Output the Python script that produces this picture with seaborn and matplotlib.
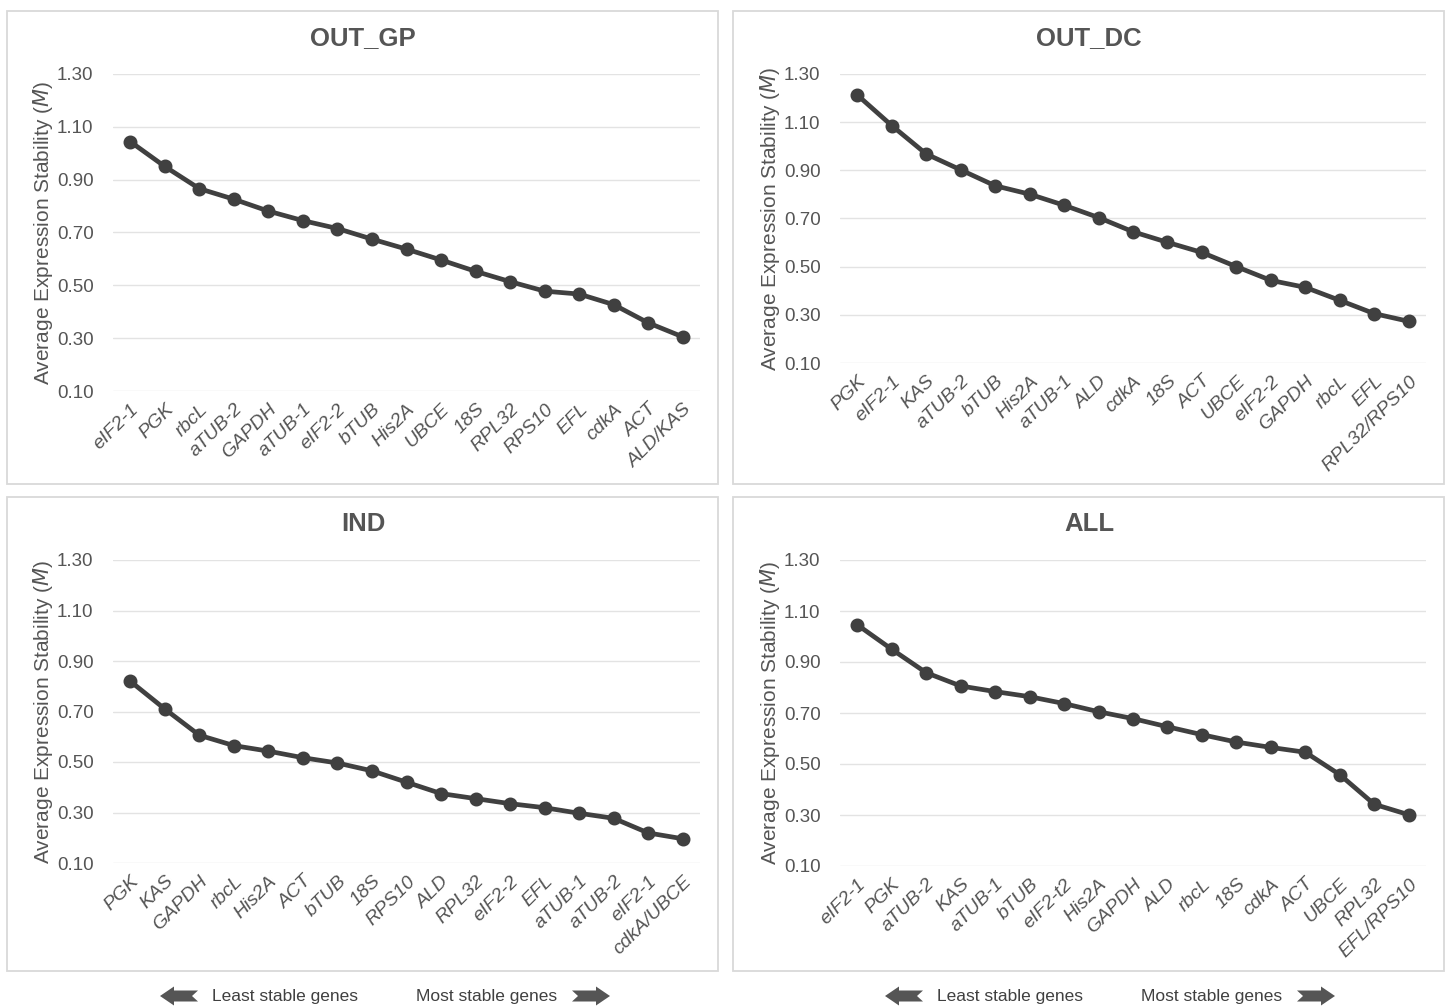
import pandas as pd
import seaborn as sns
import matplotlib.pyplot as plt
from matplotlib.patches import Rectangle, Polygon

# Gene ranking (least stable -> most stable) and average M values per set
genes_gp = ['eIF2-1', 'PGK', 'rbcL', 'aTUB-2', 'GAPDH', 'aTUB-1', 'eIF2-2', 'bTUB', 'His2A',
            'UBCE', '18S', 'RPL32', 'RPS10', 'EFL', 'cdkA', 'ACT', 'ALD/KAS']
m_gp = [1.044, 0.950, 0.866, 0.826, 0.781, 0.745, 0.715, 0.675, 0.637,
        0.596, 0.553, 0.514, 0.478, 0.467, 0.427, 0.358, 0.305]

genes_dc = ['PGK', 'eIF2-1', 'KAS', 'aTUB-2', 'bTUB', 'His2A', 'aTUB-1', 'ALD', 'cdkA',
            '18S', 'ACT', 'UBCE', 'eIF2-2', 'GAPDH', 'rbcL', 'EFL', 'RPL32/RPS10']
m_dc = [1.213, 1.086, 0.968, 0.902, 0.836, 0.801, 0.755, 0.704, 0.645,
        0.601, 0.559, 0.500, 0.443, 0.414, 0.360, 0.305, 0.273]

genes_ind = ['PGK', 'KAS', 'GAPDH', 'rbcL', 'His2A', 'ACT', 'bTUB', '18S', 'RPS10',
             'ALD', 'RPL32', 'eIF2-2', 'EFL', 'aTUB-1', 'aTUB-2', 'eIF2-1', 'cdkA/UBCE']
m_ind = [0.820, 0.710, 0.606, 0.565, 0.543, 0.517, 0.496, 0.465, 0.420,
         0.375, 0.355, 0.335, 0.319, 0.297, 0.277, 0.219, 0.196]

genes_all = ['eIF2-1', 'PGK', 'aTUB-2', 'KAS', 'aTUB-1', 'bTUB', 'eIF2-t2', 'His2A', 'GAPDH',
             'ALD', 'rbcL', '18S', 'cdkA', 'ACT', 'UBCE', 'RPL32', 'EFL/RPS10']
m_all = [1.046, 0.950, 0.858, 0.806, 0.784, 0.764, 0.737, 0.705, 0.678,
         0.646, 0.615, 0.586, 0.565, 0.546, 0.458, 0.342, 0.301]

titles = ['OUT_GP', 'OUT_DC', 'IND', 'ALL']
y_ticks = [0.10, 0.30, 0.50, 0.70, 0.90, 1.10, 1.30]

sns.set_theme(style='white')
plt.rcParams['font.family'] = ['Liberation Sans', 'DejaVu Sans']

TXT = '#555555'
LINE = '#404040'
W, H = 1447, 1006

fig = plt.figure(figsize=(W / 100, H / 100), dpi=100)


def px_rect(x0, y0, x1, y1):
    # pixel box (top-left origin) -> figure fraction [left, bottom, width, height]
    return [x0 / W, 1 - y1 / H, (x1 - x0) / W, (y1 - y0) / H]


# panel frames
for (x0, y0, x1, y1) in [(7, 11, 718, 484), (733, 11, 1444, 484),
                         (7, 497, 718, 971), (733, 497, 1444, 971)]:
    fig.add_artist(Rectangle((x0 / W, 1 - y1 / H), (x1 - x0) / W, (y1 - y0) / H,
                             transform=fig.transFigure, fill=False,
                             edgecolor='#d9d9d9', linewidth=1.3))

panels = [
    (genes_gp, m_gp, px_rect(113, 74, 700, 391), (363, 38)),
    (genes_dc, m_dc, px_rect(840, 74, 1426, 363), (1089, 38)),
    (genes_ind, m_ind, px_rect(113, 560, 700, 863), (363, 524)),
    (genes_all, m_all, px_rect(840, 560, 1426, 866), (1089, 524)),
]

for (genes, vals, rect, tpos), title in zip(panels, titles):
    ax = fig.add_axes(rect)
    df = pd.DataFrame({'gene': genes, 'M': vals})
    sns.pointplot(data=df, x='gene', y='M', ax=ax, color=LINE,
                  markers='o', markersize=7.5, linewidth=3.4)
    ax.set_xlim(-0.5, len(genes) - 0.5)
    ax.set_ylim(0.10, 1.30)
    ax.set_yticks(y_ticks)
    ax.set_yticklabels([f'{v:.2f}' for v in y_ticks], color=TXT, fontsize=13.5)
    ax.tick_params(axis='y', pad=14, length=0)
    ax.tick_params(axis='x', pad=7, length=0)
    ax.set_xticks(range(len(genes)))
    ax.set_xticklabels(genes, rotation=45, ha='right', rotation_mode='anchor',
                       style='italic', color=TXT, fontsize=14)
    ax.grid(axis='y', color='#e3e3e3', linewidth=1)
    ax.set_axisbelow(True)
    for s in ax.spines.values():
        s.set_visible(False)
    ax.set_xlabel('')
    ax.set_ylabel('Average Expression Stability ($\\it{M}$)', color=TXT,
                  fontsize=15, labelpad=1)
    fig.text(tpos[0] / W, 1 - tpos[1] / H, title, ha='center', va='center',
             fontsize=18.5, fontweight='bold', color=TXT)


def arrow(x0, yc, right):
    # block arrow with notched tail, in pixel units
    L, hh, sh, head, notch = 38, 9.5, 5.5, 14, 6
    pts = [(0, sh), (L - head, sh), (L - head, hh), (L, 0), (L - head, -hh),
           (L - head, -sh), (0, -sh), (notch, 0)]
    if not right:
        pts = [(L - x, y) for x, y in pts]
    pts = [((x0 + x) / W, 1 - (yc + y) / H) for x, y in pts]
    fig.add_artist(Polygon(pts, closed=True, transform=fig.transFigure,
                           facecolor=TXT, edgecolor='none'))


for off in (0, 725):
    arrow(160 + off, 996, right=False)
    fig.text((212 + off) / W, 1 - 996 / H, 'Least stable genes', ha='left',
             va='center', fontsize=12.5, color='#404040')
    fig.text((557 + off) / W, 1 - 996 / H, 'Most stable genes', ha='right',
             va='center', fontsize=12.5, color='#404040')
    arrow(572 + off, 996, right=True)

fig.savefig('out.png', dpi=100, facecolor='white')
